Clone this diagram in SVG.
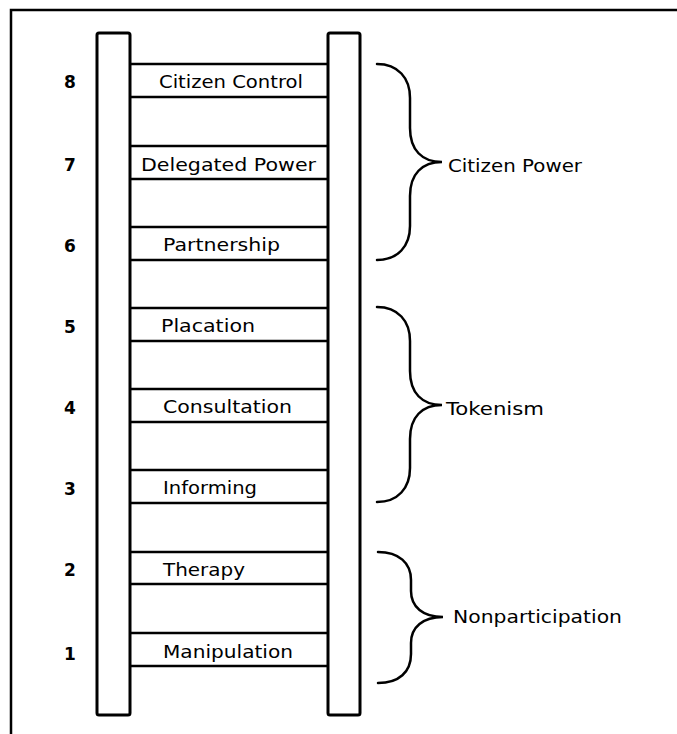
<svg xmlns="http://www.w3.org/2000/svg" width="677" height="734" viewBox="0 0 677 734">
<style>
.frame{fill:none;stroke:#000;stroke-width:2.5}
.rail{fill:#fff;stroke:#000;stroke-width:3}
.rung{stroke:#000;stroke-width:2.5}
.brace{fill:none;stroke:#000;stroke-width:2.5;stroke-linecap:round}
.lbl{font-family:"DejaVu Sans","Liberation Sans",sans-serif;font-size:18px;fill:#000}
.num{font-family:"DejaVu Sans","Liberation Sans",sans-serif;font-size:17px;font-weight:bold;fill:#000}
</style>
<rect width="677" height="734" fill="#fff"/>
<rect class="frame" x="11" y="10" width="680" height="740"/>
<g id="ladder">
<rect class="rail" x="97" y="33" width="33" height="682" rx="2"/>
<rect class="rail" x="328" y="33" width="32" height="682" rx="2"/>
</g>
<g id="rung8"><line class="rung" x1="130" y1="64" x2="328" y2="64"/><line class="rung" x1="130" y1="97" x2="328" y2="97"/>
<text class="lbl" x="159" y="88" textLength="144" lengthAdjust="spacingAndGlyphs">Citizen Control</text><text class="num" x="64" y="88">8</text></g>
<g id="rung7"><line class="rung" x1="130" y1="146" x2="328" y2="146"/><line class="rung" x1="130" y1="179" x2="328" y2="179"/>
<text class="lbl" x="141" y="171" textLength="175" lengthAdjust="spacingAndGlyphs">Delegated Power</text><text class="num" x="64" y="171">7</text></g>
<g id="rung6"><line class="rung" x1="130" y1="227" x2="328" y2="227"/><line class="rung" x1="130" y1="260" x2="328" y2="260"/>
<text class="lbl" x="163" y="251" textLength="117" lengthAdjust="spacingAndGlyphs">Partnership</text><text class="num" x="64" y="252">6</text></g>
<g id="rung5"><line class="rung" x1="130" y1="308" x2="328" y2="308"/><line class="rung" x1="130" y1="341" x2="328" y2="341"/>
<text class="lbl" x="161" y="332" textLength="94" lengthAdjust="spacingAndGlyphs">Placation</text><text class="num" x="64" y="333">5</text></g>
<g id="rung4"><line class="rung" x1="130" y1="389" x2="328" y2="389"/><line class="rung" x1="130" y1="422" x2="328" y2="422"/>
<text class="lbl" x="163" y="413" textLength="129" lengthAdjust="spacingAndGlyphs">Consultation</text><text class="num" x="64" y="414">4</text></g>
<g id="rung3"><line class="rung" x1="130" y1="470" x2="328" y2="470"/><line class="rung" x1="130" y1="503" x2="328" y2="503"/>
<text class="lbl" x="163" y="494" textLength="94" lengthAdjust="spacingAndGlyphs">Informing</text><text class="num" x="64" y="495">3</text></g>
<g id="rung2"><line class="rung" x1="130" y1="552" x2="328" y2="552"/><line class="rung" x1="130" y1="584" x2="328" y2="584"/>
<text class="lbl" x="163" y="576" textLength="82" lengthAdjust="spacingAndGlyphs">Therapy</text><text class="num" x="64" y="576">2</text></g>
<g id="rung1"><line class="rung" x1="130" y1="633" x2="328" y2="633"/><line class="rung" x1="130" y1="666" x2="328" y2="666"/>
<text class="lbl" x="163" y="658" textLength="130" lengthAdjust="spacingAndGlyphs">Manipulation</text><text class="num" x="64" y="660">1</text></g>
<g id="connectors">
<path class="brace" d="M377,64 C398,64 410,78 410,98 L410,128 C410,150 422,162 442,162 C422,162 410,174 410,196 L410,226 C410,246 398,260 377,260"/>
<path class="brace" d="M377,307 C398,307 410,321 410,341 L410,371 C410,393 422,405 442,405 C422,405 410,417 410,439 L410,468 C410,488 398,502 377,502"/>
<path class="brace" d="M378,552 C399,552 411,563 411,580 L411,591 C411,607 423,617 443,617 C423,617 411,627 411,643 L411,654 C411,672 399,683 378,683"/>
</g>
<g id="group-citizen-power"><text class="lbl" x="448" y="172" textLength="134" lengthAdjust="spacingAndGlyphs">Citizen Power</text></g>
<g id="group-tokenism"><text class="lbl" x="446" y="415" textLength="98" lengthAdjust="spacingAndGlyphs">Tokenism</text></g>
<g id="group-nonparticipation"><text class="lbl" x="453" y="623" textLength="169" lengthAdjust="spacingAndGlyphs">Nonparticipation</text></g>
</svg>
